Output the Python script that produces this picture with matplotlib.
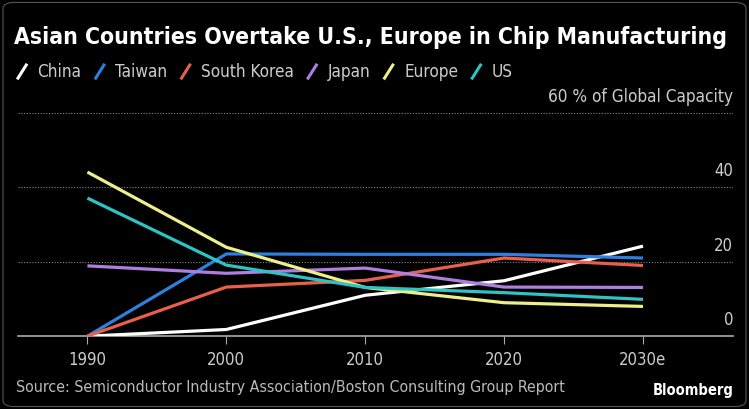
import matplotlib.pyplot as plt
from matplotlib.lines import Line2D
from matplotlib.patches import FancyBboxPatch

years = [1990, 2000, 2010, 2020, 2030]
year_labels = ['1990', '2000', '2010', '2020', '2030e']

china = [0, 1.8, 11.0, 14.9, 24.2]
taiwan = [0, 22.1, 22.0, 22.0, 21.0]
south_korea = [0, 13.2, 15.0, 21.0, 19.0]
japan = [18.9, 16.9, 18.3, 13.2, 13.1]
europe = [44.1, 23.9, 13.1, 9.0, 8.0]
us = [37.1, 19.1, 13.1, 11.7, 9.9]

names = ['China', 'Taiwan', 'South Korea', 'Japan', 'Europe', 'US']
colors = ['#ffffff', '#2f7fe0', '#e8604c', '#b07ee0', '#eeee8a', '#2cc4c4']
series = [china, taiwan, south_korea, japan, europe, us]

y_ticks = [0, 20, 40, 60]

plt.rcParams['font.family'] = ['DejaVu Sans']
plt.rcParams['font.stretch'] = 'condensed'

fig = plt.figure(figsize=(7.49, 4.09), dpi=100, facecolor='black')
bg = FancyBboxPatch((0.004, 0.006), 0.992, 0.988, boxstyle='round,pad=0,rounding_size=0.015',
                    transform=fig.transFigure, facecolor='black', edgecolor='#555555', lw=0.8,
                    zorder=-5)
fig.patches.append(bg)

ax = fig.add_axes([0.024, 0.178, 0.955, 0.546])
ax.set_facecolor('none')

for vals, c in zip(series, colors):
    ax.plot(years, vals, color=c, lw=2.3, solid_capstyle='butt', zorder=3)

ax.set_xlim(1985.0, 2036.5)
ax.set_ylim(0, 60)

for t in y_ticks[1:]:
    ax.axhline(t, color='#888888', lw=0.8, ls=(0, (1, 1.5)), zorder=1)
for t in y_ticks[1:-1] + [0]:
    ax.text(1.0, t + 4.3, str(t), transform=ax.get_yaxis_transform(), ha='right', va='center',
            color='#cccccc', fontsize=12)
ax.text(1.0, 64.3, '60 % of Global Capacity', transform=ax.get_yaxis_transform(),
        ha='right', va='center', color='#cccccc', fontsize=12.3)

for s in ['top', 'right', 'left']:
    ax.spines[s].set_visible(False)
ax.spines['bottom'].set_color('#aaaaaa')
ax.spines['bottom'].set_linewidth(1.2)
ax.set_yticks([])
ax.set_xticks(years)
ax.set_xticklabels(year_labels)
ax.tick_params(axis='x', colors='#aaaaaa', labelcolor='#cccccc', labelsize=12,
               length=6, width=0.8, pad=5)

fig.text(0.019, 0.909, 'Asian Countries Overtake U.S., Europe in Chip Manufacturing',
         color='white', fontsize=16.5, fontweight='bold', ha='left', va='center')

# legend with slash markers
x = 0.024
y = 0.825
for name, c in zip(names, colors):
    fig.add_artist(Line2D([x, x + 0.011], [y - 0.016, y + 0.016], color=c, lw=2.2,
                          transform=fig.transFigure))
    t = fig.text(x + 0.026, y, name, color='#cccccc', fontsize=12.3, ha='left', va='center')
    fig.canvas.draw()
    bb = t.get_window_extent()
    x = bb.x1 / fig.bbox.width + 0.019

fig.text(0.022, 0.053, 'Source: Semiconductor Industry Association/Boston Consulting Group Report',
         color='#bbbbbb', fontsize=11.4, ha='left', va='center')
fig.text(0.98, 0.046, 'Bloomberg', color='white', fontsize=10.5, fontweight='bold',
         ha='right', va='center')

fig.savefig('out.png', dpi=100, facecolor='black')
